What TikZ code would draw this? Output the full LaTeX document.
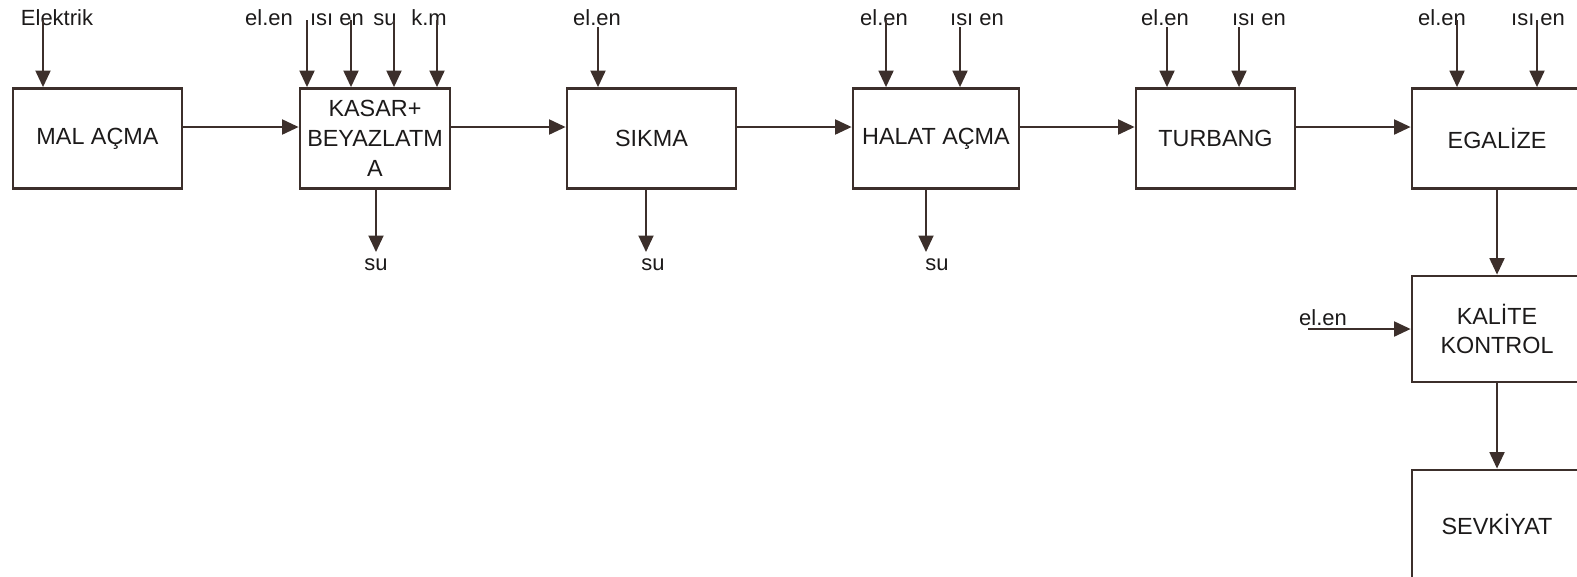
\documentclass[tikz,border=0pt]{standalone}
\usepackage{fontspec}
\setmainfont{Liberation Sans}
\usepackage{tikz}
\usetikzlibrary{arrows.meta,positioning}

\definecolor{ink}{RGB}{60,47,43}
\definecolor{txt}{RGB}{28,26,26}

\tikzset{
  stage/.style={draw=ink, line width=1.6pt, minimum height=20mm, align=center,
    text=txt, inner sep=1pt, font=\fontsize{13.3}{17}\selectfont},
  flow/.style={draw=ink, line width=1.1pt, -{Triangle[length=3.3mm,width=3mm]}},
  feed/.style={text=txt, inner sep=0pt, anchor=base, font=\fontsize{12.5}{15}\selectfont},
}

\begin{document}
\begin{tikzpicture}[x=0.2mm,y=-0.2mm]
    % one unit = one pixel of the sheet, y runs down
    \clip (0,0) rectangle (1577,576);
    \def\top{20}    % start of inputs running through their label
    \def\low{27}    % start of inputs below their label
    \def\out{252}   % tip of the outputs
    \coordinate (lane) at (0,127);

    % ---- Process line ----
    \node[stage, minimum width=33.8mm] (mal) at (97.5,138.5) {MAL AÇMA};
    \node[stage, minimum width=30mm] (kasar) at (375,138.5) {KASAR+\\BEYAZLATM\\A};
    \node[stage, minimum width=33.8mm] (sikma) at (651.5,138.5) {SIKMA};
    \node[stage, minimum width=33.2mm] (halat) at (936,138.5) {HALAT AÇMA};
    \node[stage, minimum width=31.8mm] (turbang) at (1215.5,138.5) {TURBANG};
    \node[stage, minimum width=34mm] (egalize) at (1497,138.5) {EGALİZE};
    \node[stage, minimum width=34mm, minimum height=21.2mm] (kalite) at (1497,329) {KALİTE\\KONTROL};
    \node[stage, minimum width=34mm, minimum height=21.6mm] (sevk) at (1497,524) {SEVKİYAT};

    \draw[flow] (mal.east |- lane) -- (kasar.west |- lane);
    \draw[flow] (kasar.east |- lane) -- (sikma.west |- lane);
    \draw[flow] (sikma.east |- lane) -- (halat.west |- lane);
    \draw[flow] (halat.east |- lane) -- (turbang.west |- lane);
    \draw[flow] (turbang.east |- lane) -- (egalize.west |- lane);
    \draw[flow] (egalize.south) -- (kalite.north);
    \draw[flow] (kalite.south) -- (sevk.north);

    % ---- Inputs ----
    \node[feed] (in1) at (57,25) {Elektrik};
    \coordinate (e1) at (43,\top);
    \draw[flow] (e1) -- (e1 |- mal.north);

    \node[feed] (in2) at (269,25) {el.en};
    \node[feed] (in3) at (337,25) {ısı en};
    \node[feed] (in4) at (385,25) {su};
    \node[feed] (in5) at (429,25) {k.m};
    \coordinate (e2) at (307,\top);
    \coordinate (e3) at (351,\top);
    \coordinate (e4) at (394,\top);
    \coordinate (e5) at (437,\top);
    \draw[flow] (e2) -- (e2 |- kasar.north);
    \draw[flow] (e3) -- (e3 |- kasar.north);
    \draw[flow] (e4) -- (e4 |- kasar.north);
    \draw[flow] (e5) -- (e5 |- kasar.north);

    \node[feed] (in6) at (597,25) {el.en};
    \coordinate (e6) at (598,\low);
    \draw[flow] (e6) -- (e6 |- sikma.north);

    \node[feed] (in7) at (884,25) {el.en};
    \node[feed] (in8) at (977,25) {ısı en};
    \coordinate (e7) at (886,\top);
    \coordinate (e8) at (960,\low);
    \draw[flow] (e7) -- (e7 |- halat.north);
    \draw[flow] (e8) -- (e8 |- halat.north);

    \node[feed] (in9) at (1165,25) {el.en};
    \node[feed] (in10) at (1259,25) {ısı en};
    \coordinate (e9) at (1167,\low);
    \coordinate (e10) at (1239,\low);
    \draw[flow] (e9) -- (e9 |- turbang.north);
    \draw[flow] (e10) -- (e10 |- turbang.north);

    \node[feed] (in11) at (1442,25) {el.en};
    \node[feed] (in12) at (1538,25) {ısı en};
    \coordinate (e11) at (1457,\top);
    \coordinate (e12) at (1537,\top);
    \draw[flow] (e11) -- (e11 |- egalize.north);
    \draw[flow] (e12) -- (e12 |- egalize.north);

    \node[feed] (in13) at (1323,325) {el.en};
    \coordinate (e13) at (1308,329);
    \draw[flow] (e13) -- (kalite.west |- e13);

    % ---- Outputs ----
    \coordinate (o1) at (376,\out);
    \coordinate (o2) at (646,\out);
    \coordinate (o3) at (926,\out);
    \draw[flow] (o1 |- kasar.south) -- (o1);
    \draw[flow] (o2 |- sikma.south) -- (o2);
    \draw[flow] (o3 |- halat.south) -- (o3);
    \node[feed] (out1) at (376,270) {su};
    \node[feed] (out2) at (653,270) {su};
    \node[feed] (out3) at (937,270) {su};
\end{tikzpicture}
\end{document}
